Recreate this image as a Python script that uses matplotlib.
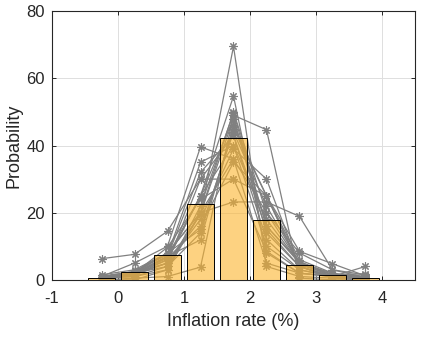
import numpy as np
import matplotlib
matplotlib.use("Agg")
import matplotlib.pyplot as plt

# bin centres (inflation rate, %)
bins = [-0.25, 0.25, 0.75, 1.25, 1.75, 2.25, 2.75, 3.25, 3.75]

# average probability per bin (bars)
avg_prob = [0.7, 2.3, 7.4, 22.7, 42.1, 17.7, 4.5, 1.5, 0.7]

# individual forecaster distributions (grey lines)
forecasters = [
    [0.5, 1.0, 4.0, 19.5, 69.5, 4.0, 1.0, 0.5, 0.0],
    [1.0, 2.0, 6.0, 25.0, 54.7, 8.0, 2.0, 1.0, 0.3],
    [0.0, 0.5, 1.0, 3.8, 49.0, 44.7, 0.5, 0.0, 0.0],
    [6.3, 7.6, 14.5, 30.0, 30.0, 8.5, 2.0, 1.0, 0.1],
    [1.0, 2.0, 8.0, 20.0, 23.2, 23.2, 18.9, 3.0, 0.7],
    [1.0, 2.0, 5.0, 19.7, 48.0, 16.0, 5.0, 1.5, 1.8],
    [1.0, 5.0, 10.0, 39.6, 36.0, 5.0, 2.0, 1.0, 0.4],
    [1.0, 2.5, 7.5, 35.0, 40.0, 10.0, 3.0, 1.0, 0.0],
    [0.5, 1.5, 7.0, 32.0, 43.0, 12.0, 3.0, 1.0, 0.0],
    [1.0, 2.0, 7.0, 11.9, 46.0, 25.0, 4.5, 1.5, 1.1],
    [0.5, 1.0, 3.0, 22.0, 49.6, 16.0, 5.5, 1.5, 0.9],
    [1.0, 2.0, 6.5, 16.0, 35.0, 25.0, 8.5, 4.8, 1.2],
    [0.5, 1.5, 5.0, 30.0, 43.0, 15.0, 4.0, 1.0, 0.0],
    [1.0, 2.0, 7.0, 25.0, 40.0, 18.0, 5.0, 1.5, 0.5],
    [0.0, 0.0, 3.0, 20.0, 50.0, 20.0, 5.0, 2.0, 0.0],
    [1.0, 2.5, 8.0, 20.0, 36.0, 20.0, 8.0, 3.0, 1.5],
    [0.5, 1.5, 6.0, 25.0, 48.0, 14.0, 4.0, 1.0, 0.0],
    [0.5, 2.0, 9.7, 24.0, 30.0, 25.0, 6.0, 2.0, 0.8],
    [1.5, 3.0, 8.0, 15.0, 44.0, 22.0, 5.0, 1.0, 0.5],
    [1.0, 2.0, 5.0, 18.0, 39.0, 30.0, 4.0, 0.5, 0.5],
    [1.0, 2.0, 4.0, 14.0, 45.0, 25.0, 4.0, 1.0, 4.0],
]

plt.rcParams['font.family'] = ['Liberation Sans', 'DejaVu Sans']
plt.rcParams['axes.unicode_minus'] = False

fig = plt.figure(figsize=(4.23, 3.38), dpi=100)
ax = fig.add_axes([0.123, 0.172, 0.858, 0.795])

for f in forecasters:
    ax.plot(bins, f, color=(0.5, 0.5, 0.5), lw=0.9, marker=(8, 2, 0),
            ms=6, mew=0.8, zorder=2)

ax.bar(bins, avg_prob, width=0.4, facecolor=(0.99, 0.71, 0.18), alpha=0.6,
       edgecolor='none', zorder=3)
ax.bar(bins, avg_prob, width=0.4, facecolor='none', edgecolor='black',
       lw=0.7, zorder=4)

ax.set_xlim(-1, 4.5)
ax.set_ylim(0, 80)
ax.set_xticks([-1, 0, 1, 2, 3, 4])
ax.set_yticks([0, 20, 40, 60, 80])
ax.grid(True, color=(0.87, 0.87, 0.87), lw=0.7, zorder=0)
ax.set_axisbelow(True)
ax.tick_params(direction='in', length=3, width=0.7, top=True, right=True,
               labelsize=12, colors=(0.15, 0.15, 0.15))
ax.tick_params(axis='x', pad=8)
ax.tick_params(axis='y', pad=5)
for s in ax.spines.values():
    s.set_color((0.15, 0.15, 0.15))
    s.set_linewidth(0.8)

ax.set_xlabel('Inflation rate (%)', fontsize=13, color=(0.15, 0.15, 0.15), labelpad=5)
ax.set_ylabel('Probability', fontsize=13, color=(0.15, 0.15, 0.15), labelpad=3)

fig.savefig('out.png', dpi=100)
